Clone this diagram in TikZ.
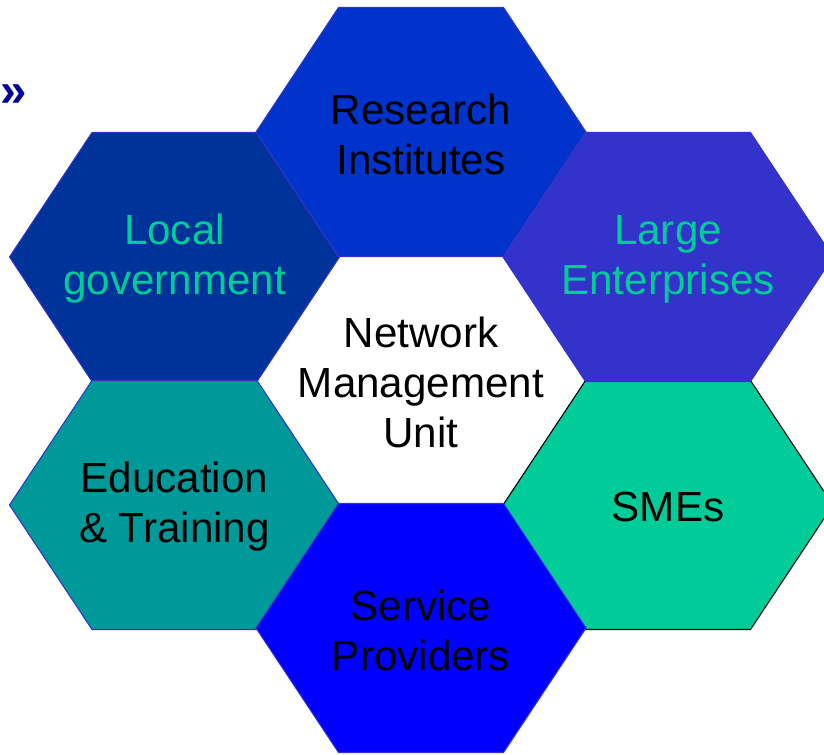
\documentclass[tikz,border=0pt]{standalone}
\usepackage{fontspec}
\setmainfont{Liberation Sans}
\definecolor{hexline}{HTML}{3333CC}
\definecolor{resblue}{HTML}{0033CC}
\definecolor{govblue}{HTML}{003399}
\definecolor{entblue}{HTML}{3333CC}
\definecolor{edteal}{HTML}{009999}
\definecolor{smegreen}{HTML}{00CC99}
\definecolor{srvblue}{HTML}{0000FF}
\definecolor{markblue}{HTML}{000099}
% hexagon cell: centre x, centre y, style
\def\hexcell#1#2#3{\draw[#3] (#1,#2) ++(-165,0) -- ++(82.5,-124.5) -- ++(165,0)
	-- ++(82.5,124.5) -- ++(-82.5,124.5) -- ++(-165,0) -- cycle;}

\begin{document}
\begin{tikzpicture}[x=0.02cm, y=-0.02cm]
			\tikzstyle{every node}=[align=center, inner sep=1pt, font=\fontsize{24}{28.5}\selectfont]
			\tikzstyle{hex}=[draw=hexline, line width=0.6pt]
			\clip (0,0) rectangle (824,754);
				\hexcell{421}{380}{fill=white}
				\hexcell{668}{505}{hex, fill=smegreen, draw=black}
				\hexcell{174.5}{257}{hex, fill=govblue}
				\hexcell{421}{132}{hex, fill=resblue}
				\hexcell{668}{257}{hex, fill=entblue}
				\hexcell{174.5}{505}{hex, fill=edteal}
				\hexcell{421}{628}{hex, fill=srvblue}
			
				\node (nmu) at (421, 382) {Network \\ Management \\ Unit};
				\node (ri) at (421, 134) {Research \\ Institutes};
				\node[text=smegreen] (lg) at (174.5, 259) {Local \\ government};
				\node[text=smegreen] (le) at (668, 259) {Large \\ Enterprises};
				\node (et) at (174.5, 507) {Education \\ \& Training};
				\node (sme) at (668, 507) {SMEs};
				\node (sp) at (421, 630) {Service \\ Providers};
				\node[text=markblue, font=\bfseries\fontsize{27}{27}\selectfont, anchor=west, inner sep=0pt] (mark) at (0, 96) {»};
		\end{tikzpicture}
\end{document}
